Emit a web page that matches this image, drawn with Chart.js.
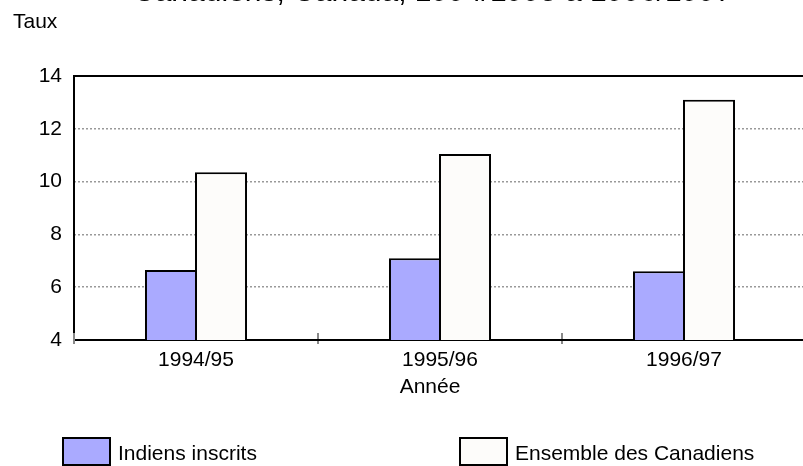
<!DOCTYPE html>
<html lang="fr">
<head>
<meta charset="utf-8">
<title>Taux - Indiens inscrits et ensemble des Canadiens</title>
<script src="https://cdn.jsdelivr.net/npm/chart.js@4.4.1/dist/chart.umd.min.js"></script>
<style>
    html, body { margin: 0; padding: 0; background: #fff; overflow: hidden; }
    #wrap { width: 812px; height: 466px; }
</style>
</head>
<body>
<div id="wrap"><canvas id="chart" width="812" height="466"></canvas></div>
<script>
// --- Daten ---
const categories = ['1994/95', '1995/96', '1996/97'];
const indiensInscrits = [6.65, 7.1, 6.6];
const ensembleCanadiens = [10.35, 11.05, 13.1];
const yTicks = [4, 6, 8, 10, 12, 14];
const seriesNames = ['Indiens inscrits', 'Ensemble des Canadiens'];

const FONT = "'Liberation Sans', Arial, sans-serif";
Chart.defaults.font.family = FONT;
Chart.defaults.font.size = 21;
Chart.defaults.color = '#000';

// Rahmen, Achsenstriche, Texte und Legende
const decor = {
    id: 'decor',
    beforeDatasetsDraw(chart) {
        const { ctx, chartArea: a, scales: { x } } = chart;
        ctx.save();
        // graue Striche zwischen den Kategorien
        ctx.strokeStyle = '#888';
        ctx.lineWidth = 2;
        for (let i = -1; i < categories.length; i++) {
            const px = (x.getPixelForValue(i) + x.getPixelForValue(i + 1)) / 2;
            ctx.beginPath();
            ctx.moveTo(px, a.bottom - 7);
            ctx.lineTo(px, a.bottom + 4);
            ctx.stroke();
        }
        ctx.strokeStyle = '#000';
        ctx.lineWidth = 2;
        ctx.beginPath();
        ctx.moveTo(a.left, a.bottom - 7);
        ctx.lineTo(a.left, a.top);
        ctx.lineTo(a.right, a.top);
        ctx.stroke();
        ctx.beginPath();
        ctx.moveTo(a.left + 1, a.bottom);
        ctx.lineTo(a.right, a.bottom);
        ctx.stroke();
        ctx.restore();
    },
    afterDraw(chart) {
        const { ctx } = chart;
        ctx.save();
        ctx.fillStyle = '#000';
        // abgeschnittener Titel oben
        ctx.font = '30px ' + FONT;
        ctx.textAlign = 'left';
        ctx.textBaseline = 'alphabetic';
        ctx.fillText('Canadiens, Canada, 1994/1995 à 1996/1997', 133, 1, 604);
        ctx.font = '21px ' + FONT;
        ctx.fillText('Taux', 13, 28);
        ctx.textAlign = 'center';
        ctx.fillText('Année', 430, 393);
        // Legende
        const legendX = [63, 460];
        chart.data.datasets.forEach((ds, i) => {
            ctx.fillStyle = ds.backgroundColor;
            ctx.fillRect(legendX[i], 438, 47, 27);
            ctx.strokeStyle = '#000';
            ctx.lineWidth = 2;
            ctx.strokeRect(legendX[i], 438, 47, 27);
            ctx.fillStyle = '#000';
            ctx.textAlign = 'left';
            ctx.fillText(ds.label, legendX[i] + 55, 460);
        });
        ctx.restore();
    }
};

new Chart(document.getElementById('chart').getContext('2d'), {
    type: 'bar',
    data: {
        labels: categories,
        datasets: [
            { label: seriesNames[0], data: indiensInscrits, backgroundColor: '#aaaaff', borderColor: '#000', borderWidth: 2, borderSkipped: false },
            { label: seriesNames[1], data: ensembleCanadiens, backgroundColor: '#fdfcfa', borderColor: '#000', borderWidth: 2, borderSkipped: false }
        ]
    },
    options: {
        responsive: false,
        animation: false,
        layout: { padding: { top: 76, right: 6, left: 0, bottom: 0 } },
        plugins: { legend: { display: false }, tooltip: { enabled: false } },
        datasets: { bar: { barPercentage: 1.04, categoryPercentage: 0.41 } },
        scales: {
            x: {
                grid: { display: false },
                border: { display: false },
                ticks: { padding: 0, color: '#000', font: { size: 21 } },
                afterFit: s => { s.height = 126; }
            },
            y: {
                min: 4,
                max: 14,
                afterBuildTicks: s => { s.ticks = yTicks.map(v => ({ value: v })); },
                grid: {
                    drawTicks: false,
                    color: c => (c.tick.value === 4 || c.tick.value === 14) ? 'rgba(0,0,0,0)' : '#999',
                    lineWidth: 1.5
                },
                border: { display: false, dash: [2, 2] },
                ticks: { padding: 12, color: '#000', font: { size: 21 } },
                afterFit: s => { s.width = 74; }
            }
        }
    },
    plugins: [decor]
});
</script>
</body>
</html>
